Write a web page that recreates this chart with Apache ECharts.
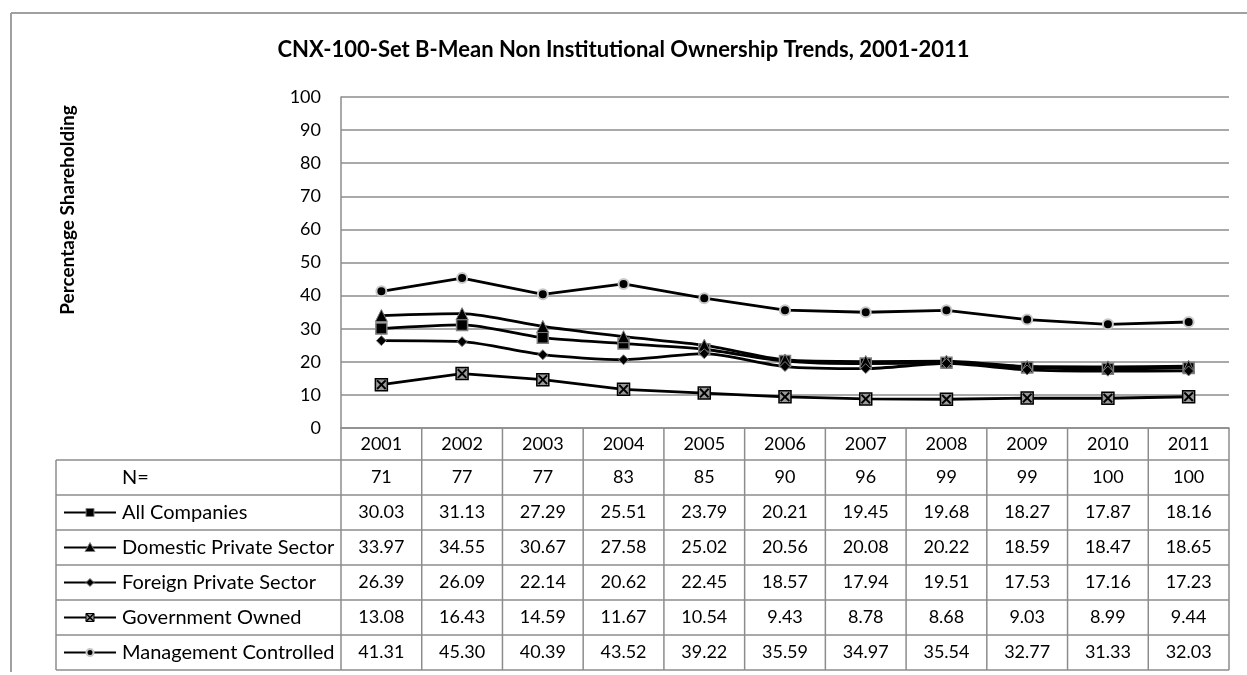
<!DOCTYPE html>
<html><head><meta charset="utf-8">
<script src="https://cdn.jsdelivr.net/npm/echarts@6/dist/echarts.min.js"></script>
<style>html,body{margin:0;padding:0;background:#fff}#c{width:1247px;height:675px}</style>
</head><body><div id="c"></div>
<script>
const years = ['2001','2002','2003','2004','2005','2006','2007','2008','2009','2010','2011'];
const nCounts = [71,77,77,83,85,90,96,99,99,100,100];
const seriesNames = ['All Companies','Domestic Private Sector','Foreign Private Sector','Government Owned','Management Controlled'];
const allCompanies = [30.03,31.13,27.29,25.51,23.79,20.21,19.45,19.68,18.27,17.87,18.16];
const domesticPrivate = [33.97,34.55,30.67,27.58,25.02,20.56,20.08,20.22,18.59,18.47,18.65];
const foreignPrivate = [26.39,26.09,22.14,20.62,22.45,18.57,17.94,19.51,17.53,17.16,17.23];
const governmentOwned = [13.08,16.43,14.59,11.67,10.54,9.43,8.78,8.68,9.03,8.99,9.44];
const managementControlled = [41.31,45.30,40.39,43.52,39.22,35.59,34.97,35.54,32.77,31.33,32.03];
const yTicks = [0,10,20,30,40,50,60,70,80,90,100];

const FONT = 'Lato';
const GRID_C = '#8c8c8c';
const xPath = 'path://M0,1.4 L1.4,0 L5,3.6 L8.6,0 L10,1.4 L6.4,5 L10,8.6 L8.6,10 L5,6.4 L1.4,10 L0,8.6 L3.6,5 Z';

const chart = echarts.init(document.getElementById('c'), null, {renderer:'canvas'});
const lineBase = {type:'line', lineStyle:{color:'#000', width:2.8}, itemStyle:{color:'#000'}, z:3};
const option = {
  animation:false,
  backgroundColor:'#fff',
  title:{text:'CNX-100-Set B-Mean Non Institutional Ownership Trends, 2001-2011', left:'center', top:34,
    textStyle:{fontFamily:FONT, fontSize:22, fontWeight:'bold', color:'#000'}},
  grid:{left:341, right:18, top:97, bottom:247},
  xAxis:{type:'category', data:years, boundaryGap:true,
    axisLine:{lineStyle:{color:GRID_C, width:1.5}}, axisTick:{show:false},
    axisLabel:{fontFamily:FONT, fontSize:18, color:'#000', margin:7, interval:0}},
  yAxis:{type:'value', min:yTicks[0], max:yTicks[yTicks.length-1], interval:10,
    axisLine:{show:true, lineStyle:{color:GRID_C, width:1.5}}, axisTick:{show:false},
    splitLine:{lineStyle:{color:GRID_C, width:1.5}},
    axisLabel:{fontFamily:FONT, fontSize:18, color:'#000', margin:20}},
  series:[
    Object.assign({}, lineBase, {name:seriesNames[0], data:allCompanies, smooth:0.25, symbol:'rect', symbolSize:11,
      itemStyle:{color:'#000', borderColor:'#7f7f7f', borderWidth:1.5}}),
    Object.assign({}, lineBase, {name:seriesNames[1], data:domesticPrivate, smooth:0.25, symbol:'triangle', symbolSize:12,
      itemStyle:{color:'#000', borderColor:'#7f7f7f', borderWidth:1}}),
    Object.assign({}, lineBase, {name:seriesNames[2], data:foreignPrivate, smooth:0.25, symbol:'diamond', symbolSize:10,
      itemStyle:{color:'#000', borderColor:'#7f7f7f', borderWidth:1}}),
    Object.assign({}, lineBase, {name:seriesNames[3], data:governmentOwned, symbol:'rect', symbolSize:12,
      itemStyle:{color:'#9a9a9a', borderColor:'#000', borderWidth:1.5}}),
    Object.assign({}, lineBase, {name:seriesNames[3]+' x', data:governmentOwned, symbol:xPath, symbolSize:10,
      lineStyle:{opacity:0}, itemStyle:{color:'#000'}, z:4, silent:true}),
    Object.assign({}, lineBase, {name:seriesNames[4], data:managementControlled, symbol:'circle', symbolSize:10,
      itemStyle:{color:'#000', borderColor:'#c8c8c8', borderWidth:2}})
  ]
};
chart.setOption(option);

// Build data table via graphic elements, positioned from axis scale
const rows = [['N=', nCounts], [seriesNames[0], allCompanies], [seriesNames[1], domesticPrivate],
  [seriesNames[2], foreignPrivate], [seriesNames[3], governmentOwned], [seriesNames[4], managementControlled]];
const fmt = (v, i) => i === 0 ? String(v) : v.toFixed(2);
const x0 = chart.convertToPixel({xAxisIndex:0}, 0);
const x1 = chart.convertToPixel({xAxisIndex:0}, 1);
const bw = x1 - x0;
const plotLeft = x0 - bw/2;
const plotRight = plotLeft + bw*years.length;
const yZero = chart.convertToPixel({yAxisIndex:0}, 0);
const headerBottom = yZero + 32;
const rowH = 35;
const tableLeft = 56;
const tableBottom = headerBottom + rowH*rows.length;
const g = [];
const ls = {stroke:GRID_C, lineWidth:1.5};
// outer frame
g.push({type:'line', shape:{x1:11, y1:13, x2:1247, y2:13}, style:{stroke:'#a0a0a0', lineWidth:2}});
g.push({type:'line', shape:{x1:11, y1:13, x2:11, y2:672}, style:{stroke:'#a0a0a0', lineWidth:2}});
// y axis name
g.push({type:'text', x:68, y:210, rotation:Math.PI/2, style:{text:'Percentage Shareholding', fontFamily:FONT, fontSize:19, fontWeight:'bold', fill:'#000', align:'center', verticalAlign:'middle'}});
// horizontal lines
for (let r = 0; r <= rows.length; r++) {
  const y = headerBottom + r*rowH;
  g.push({type:'line', shape:{x1:tableLeft, y1:y, x2:plotRight, y2:y}, style:ls});
}
// vertical lines
g.push({type:'line', shape:{x1:tableLeft, y1:headerBottom, x2:tableLeft, y2:tableBottom}, style:ls});
for (let k = 0; k <= years.length; k++) {
  const x = plotLeft + k*bw;
  g.push({type:'line', shape:{x1:x, y1:yZero, x2:x, y2:tableBottom}, style:ls});
}
// cells
rows.forEach((row, r) => {
  const yc = headerBottom + r*rowH + rowH/2;
  g.push({type:'text', x:122, y:yc, style:{text:row[0], fontFamily:FONT, fontSize:20, fill:'#000', align:'left', verticalAlign:'middle'}});
  row[1].forEach((v, i) => {
    const xc = chart.convertToPixel({xAxisIndex:0}, i);
    g.push({type:'text', x:xc, y:yc, style:{text:fmt(v, r), fontFamily:FONT, fontSize:18, fill:'#000', align:'center', verticalAlign:'middle'}});
  });
  if (r > 0) {
    g.push({type:'line', shape:{x1:64, y1:yc, x2:116, y2:yc}, style:{stroke:'#000', lineWidth:2}});
    const mx = 90, s = 4;
    let m;
    if (r === 1) m = {type:'rect', shape:{x:mx-s, y:yc-s, width:2*s, height:2*s}, style:{fill:'#000', stroke:'#7f7f7f', lineWidth:1}};
    else if (r === 2) m = {type:'polygon', shape:{points:[[mx,yc-s-1],[mx+s+1,yc+s],[mx-s-1,yc+s]]}, style:{fill:'#000', stroke:'#7f7f7f', lineWidth:1}};
    else if (r === 3) m = {type:'polygon', shape:{points:[[mx,yc-s],[mx+s,yc],[mx,yc+s],[mx-s,yc]]}, style:{fill:'#000', stroke:'#7f7f7f', lineWidth:1}};
    else if (r === 4) {
      g.push({type:'rect', shape:{x:mx-s, y:yc-s, width:2*s, height:2*s}, style:{fill:'#9a9a9a', stroke:'#000', lineWidth:1}});
      m = {type:'polyline', shape:{points:[[mx-s,yc-s],[mx+s,yc+s],[mx,yc],[mx+s,yc-s],[mx-s,yc+s]]}, style:{stroke:'#000', lineWidth:1.5, fill:null}};
    }
    else m = {type:'circle', shape:{cx:mx, cy:yc, r:3.5}, style:{fill:'#000', stroke:'#c8c8c8', lineWidth:2}};
    g.push(m);
  }
});
chart.setOption({graphic:g});
</script>
</body></html>
